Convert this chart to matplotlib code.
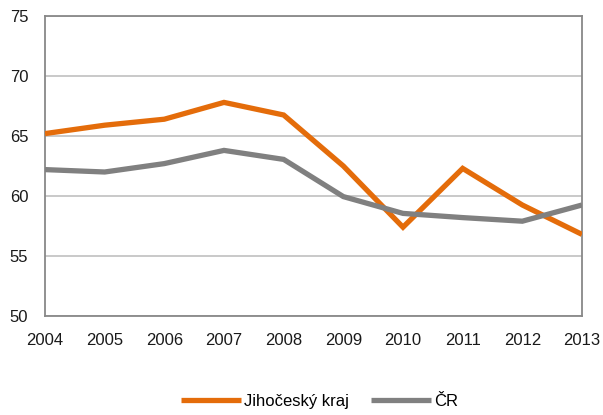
import matplotlib
matplotlib.use("Agg")
import matplotlib.pyplot as plt

years = [2004, 2005, 2006, 2007, 2008, 2009, 2010, 2011, 2012, 2013]
jihocesky = [65.2, 65.9, 66.4, 67.8, 66.75, 62.5, 57.4, 62.3, 59.25, 56.8]
cr = [62.2, 62.0, 62.7, 63.8, 63.05, 59.95, 58.55, 58.2, 57.9, 59.25]
y_ticks = [50, 55, 60, 65, 70, 75]

plt.rcParams['font.family'] = ['Liberation Sans', 'DejaVu Sans']

fig = plt.figure(figsize=(6.03, 4.15), dpi=100)
ax = fig.add_axes([45 / 603, 1 - 316 / 415, (582 - 45) / 603, 300 / 415])

ax.plot(years, jihocesky, color='#E46C0A', linewidth=3.8, label='Jihočeský kraj',
        solid_joinstyle='miter', solid_capstyle='butt', zorder=3)
ax.plot(years, cr, color='#808080', linewidth=3.8, label='ČR',
        solid_joinstyle='miter', solid_capstyle='butt', zorder=3)

ax.set_xlim(years[0], years[-1])
ax.set_ylim(50, 75)
ax.set_xticks(years)
ax.set_yticks(y_ticks)
ax.tick_params(length=0, labelsize=12, colors='#1a1a1a')
ax.tick_params(axis='y', pad=12)
ax.tick_params(axis='x', pad=12)
ax.grid(axis='y', color='#c0c0c0', linewidth=1.2)
ax.set_axisbelow(True)
for s in ax.spines.values():
    s.set_color('#888888')
    s.set_linewidth(1.3)

fig.legend(loc='lower center', bbox_to_anchor=(0.53, -0.022), ncol=2, frameon=False,
           fontsize=12, handlelength=3.6, columnspacing=1.3, handletextpad=0.2)

fig.savefig('out.png', dpi=100)
